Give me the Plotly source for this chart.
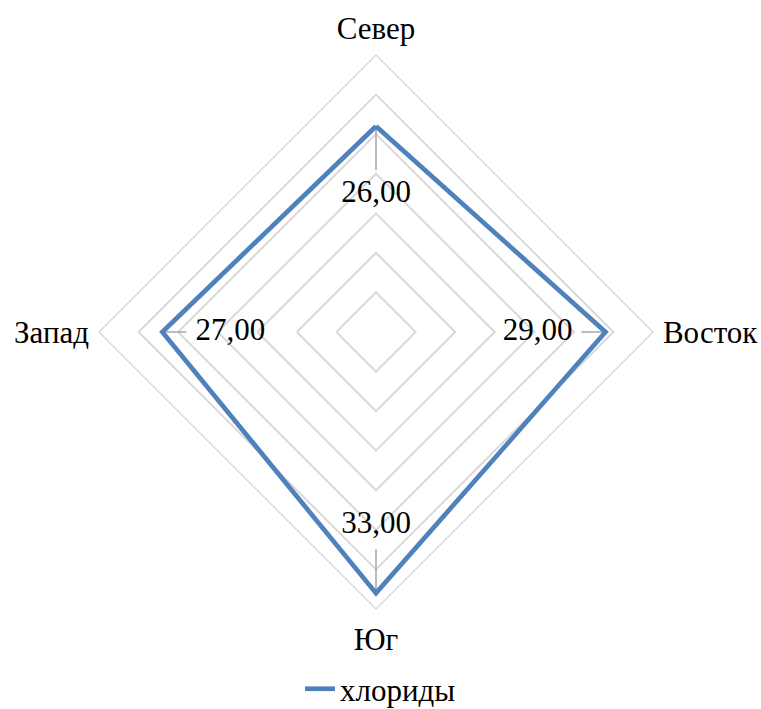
import plotly.graph_objects as go

# Directions and chloride values
directions = ["Север", "Восток", "Юг", "Запад"]
chlorides = [26.0, 29.0, 33.0, 27.0]
series_name = "хлориды"

# Radial scale
r_max = 35
ring_step = 5

# Plot geometry (pixels) used to place value labels inside the diamond
W, H = 761, 709
radius_px = 277
cx, cy = 376, 332
label_offset_px = 68      # label centre distance inward from the point
leader_h_px = 24          # leader length on horizontal axes
leader_v_px = 44          # leader length on vertical axes

px_to_r = r_max / radius_px

fmt = [f"{v:.2f}".replace(".", ",") for v in chlorides]

label_r = [v - label_offset_px * px_to_r for v in chlorides]

leader_r, leader_t = [], []
for i, (d, v) in enumerate(zip(directions, chlorides)):
    length = leader_v_px if i % 2 == 0 else leader_h_px
    leader_r += [v, v - length * px_to_r, None]
    leader_t += [d, d, d]

font_family = "Liberation Serif"
font_size = 31

fig = go.Figure()

fig.add_trace(go.Scatterpolar(
    r=leader_r, theta=leader_t, mode="lines",
    line=dict(color="#a6a6a6", width=1.5),
    showlegend=False, hoverinfo="skip", connectgaps=False,
))

fig.add_trace(go.Scatterpolar(
    r=chlorides + chlorides[:1],
    theta=directions + directions[:1],
    mode="lines",
    name=series_name,
    line=dict(color="#4f81bd", width=4.7),
))

fig.add_trace(go.Scatterpolar(
    r=label_r, theta=directions, mode="text",
    text=fmt, textposition="middle center",
    textfont=dict(family=font_family, size=font_size, color="black"),
    showlegend=False, hoverinfo="skip",
))

x0 = (cx - radius_px) / W
x1 = (cx + radius_px) / W
y0 = 1 - (cy + radius_px) / H
y1 = 1 - (cy - radius_px) / H

fig.update_layout(
    width=W, height=H,
    margin=dict(l=0, r=0, t=0, b=0, autoexpand=False),
    paper_bgcolor="white",
    plot_bgcolor="white",
    font=dict(family=font_family, size=font_size, color="black"),
    polar=dict(
        domain=dict(x=[x0, x1], y=[y0, y1]),
        bgcolor="white",
        gridshape="linear",
        radialaxis=dict(
            range=[0, r_max],
            tickvals=list(range(ring_step, r_max + 1, ring_step)),
            showticklabels=False,
            ticks="",
            showline=False,
            gridcolor="#d9d9d9",
            gridwidth=1.5,
        ),
        angularaxis=dict(
            direction="clockwise",
            rotation=90,
            showgrid=False,
            showline=True,
            linecolor="#d9d9d9",
            linewidth=1.5,
            ticks="outside",
            ticklen=3,
            tickcolor="rgba(0,0,0,0)",
            tickfont=dict(family=font_family, size=font_size, color="black"),
        ),
    ),
    legend=dict(
        orientation="h",
        x=0.5, xanchor="center",
        y=-0.01, yanchor="bottom",
        font=dict(family=font_family, size=font_size, color="black"),
    ),
)

fig.write_html("out.html")
